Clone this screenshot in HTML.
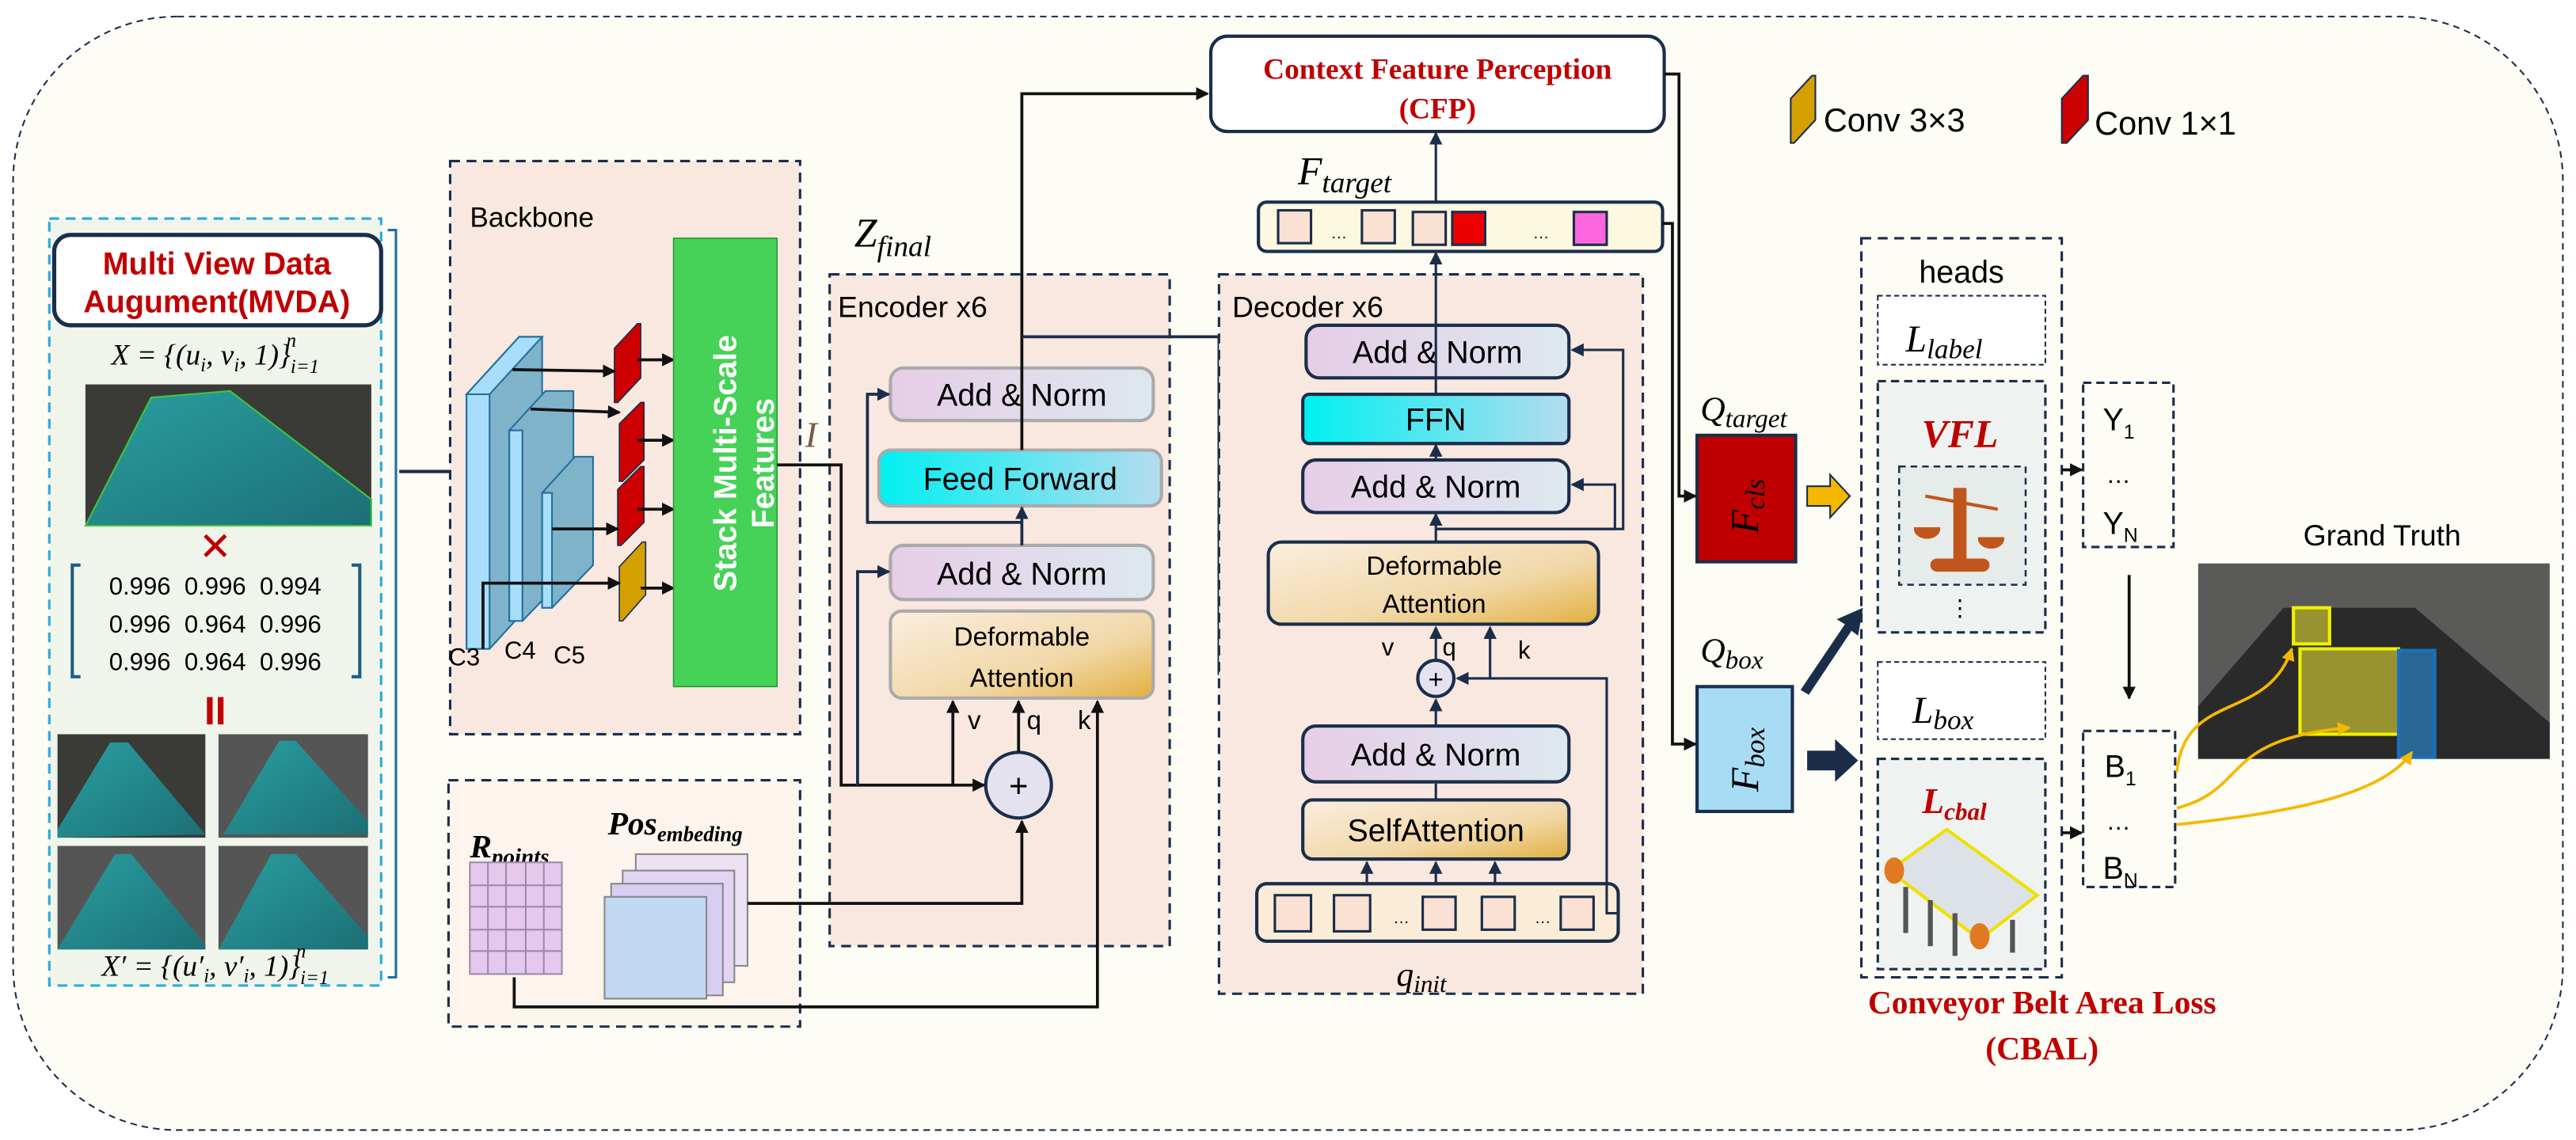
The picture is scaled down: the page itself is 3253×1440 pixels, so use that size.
<!DOCTYPE html>
<html><head><meta charset="utf-8"><style>
html,body{margin:0;padding:0;background:#fff}
svg{display:block}
text{font-family:"Liberation Sans",sans-serif}
.s{font-family:"Liberation Serif",serif}
</style></head><body>
<svg width="3253" height="1440" viewBox="0 0 1568 694" xmlns="http://www.w3.org/2000/svg">
<defs>
<linearGradient id="pu" x1="0" x2="1"><stop offset="0" stop-color="#e6cde6"/><stop offset="1" stop-color="#dde8ef"/></linearGradient>
<linearGradient id="cy" x1="0" x2="1"><stop offset="0" stop-color="#00f0f0"/><stop offset="1" stop-color="#b5dcef"/></linearGradient>
<linearGradient id="da" x1="0" y1="0" x2="1" y2="1"><stop offset="0" stop-color="#fbeee0"/><stop offset="0.6" stop-color="#f1d8a8"/><stop offset="1" stop-color="#e2b040"/></linearGradient>
<linearGradient id="tl" x1="0" y1="0" x2="1" y2="1"><stop offset="0" stop-color="#2a9fa0"/><stop offset="1" stop-color="#1c6f75"/></linearGradient>
<marker id="a" markerWidth="8" markerHeight="8" refX="7" refY="4" orient="auto" markerUnits="userSpaceOnUse"><path d="M0,0 L8,4 L0,8 z" fill="#111"/></marker>
<marker id="an" markerWidth="8" markerHeight="8" refX="7" refY="4" orient="auto" markerUnits="userSpaceOnUse"><path d="M0,0 L8,4 L0,8 z" fill="#1a2e4a"/></marker>
<marker id="ay" markerWidth="8" markerHeight="8" refX="7" refY="4" orient="auto" markerUnits="userSpaceOnUse"><path d="M0,0 L8,4 L0,8 z" fill="#f5b800"/></marker>
</defs>
<rect x="0" y="0" width="1568" height="694" fill="#fff"/>
<rect x="8" y="10" width="1552" height="678" rx="100" fill="#fdfdf5" stroke="#1a2e4a" stroke-width="1" stroke-dasharray="4,3"/>

<!-- MVDA -->
<rect x="30" y="133" width="202" height="467" fill="#f0f5ec" stroke="#2aa8e0" stroke-width="1.5" stroke-dasharray="6,4"/>
<path d="M236,140 h5 v455 h-5" fill="none" stroke="#1f6f9f" stroke-width="1.5"/>
<rect x="33" y="143" width="199" height="55" rx="10" fill="#fff" stroke="#1a2e4a" stroke-width="2.5"/>
<text x="132" y="167" font-size="19" font-weight="bold" fill="#c00000" text-anchor="middle">Multi View Data</text>
<text x="132" y="190" font-size="19" font-weight="bold" fill="#c00000" text-anchor="middle">Augument(MVDA)</text>
<text x="131" y="222" class="s" font-size="18" font-style="italic" text-anchor="middle">X = {(u<tspan font-size="12" dy="4">i</tspan><tspan dy="-4">, v</tspan><tspan font-size="12" dy="4">i</tspan><tspan dy="-4">, 1)}</tspan><tspan font-size="12" dy="5">i=1</tspan><tspan font-size="12" dx="-20" dy="-16">n</tspan></text>
<rect x="52" y="234" width="174" height="86" fill="#3a3a36"/>
<polygon points="52,320 92,242 140,238 226,304 226,320" fill="url(#tl)" stroke="#3ec63e" stroke-width="1"/>
<text x="131" y="341" font-size="24" fill="#c00000" text-anchor="middle">✕</text>
<path d="M49,344 h-5 v68 h5 M214,344 h5 v68 h-5" fill="none" stroke="#1f5f7f" stroke-width="2"/>
<text x="131" y="362" font-size="15" text-anchor="middle" xml:space="preserve">0.996  0.996  0.994</text>
<text x="131" y="385" font-size="15" text-anchor="middle" xml:space="preserve">0.996  0.964  0.996</text>
<text x="131" y="408" font-size="15" text-anchor="middle" xml:space="preserve">0.996  0.964  0.996</text>
<text x="131" y="441" font-size="24" font-weight="bold" fill="#c00000" text-anchor="middle">II</text>
<g>
<rect x="35" y="447" width="90" height="63" fill="#3a3a36"/><polygon points="35,505 67,452 78,452 125,508 35,510" fill="url(#tl)"/>
<rect x="133" y="447" width="91" height="63" fill="#555"/><polygon points="136,508 170,451 180,451 224,500 224,508" fill="url(#tl)"/>
<rect x="35" y="515" width="90" height="63" fill="#555"/><polygon points="35,578 70,520 80,520 125,575 125,578" fill="url(#tl)"/>
<rect x="133" y="515" width="91" height="63" fill="#555"/><polygon points="133,578 165,520 180,520 224,570 224,578" fill="url(#tl)"/>
</g>
<text x="131" y="594" class="s" font-size="18" font-style="italic" text-anchor="middle">X′ = {(u′<tspan font-size="12" dy="4">i</tspan><tspan dy="-4">, v′</tspan><tspan font-size="12" dy="4">i</tspan><tspan dy="-4">, 1)}</tspan><tspan font-size="12" dy="5">i=1</tspan><tspan font-size="12" dx="-20" dy="-16">n</tspan></text>
<line x1="243" y1="287" x2="283" y2="287" stroke="#1a2e4a" stroke-width="2" marker-end="url(#an)"/>

<!-- Backbone -->
<rect x="274" y="98" width="213" height="349" fill="#f9e8e0" stroke="#1a2e4a" stroke-width="1.5" stroke-dasharray="6,4"/>
<text x="286" y="138" font-size="17">Backbone</text>
<polygon points="284,240 316,205 330,205 330,360 298,395 284,395" fill="#7fb3c9" stroke="#1f6f9f"/>
<polygon points="284,240 316,205 330,205 298,240" fill="#a9defa" stroke="#1f6f9f"/>
<rect x="284" y="240" width="14" height="155" fill="#a9defa" stroke="#1f6f9f"/>
<polygon points="310,262 332,238 349,238 349,346 318,378 310,378" fill="#7fb3c9" stroke="#1f6f9f"/>
<rect x="310" y="262" width="8" height="116" fill="#a9defa" stroke="#1f6f9f"/>
<polygon points="330,300 350,278 361,278 361,344 336,370 330,370" fill="#7fb3c9" stroke="#1f6f9f"/>
<rect x="330" y="300" width="6" height="70" fill="#a9defa" stroke="#1f6f9f"/>
<text x="273" y="405" font-size="15">C3</text><text x="307" y="401" font-size="15">C4</text><text x="337" y="404" font-size="15">C5</text>
<g fill="#cc0000" stroke="#1a2e4a" stroke-width="0.8">
<polygon points="374,212 388,197 390,197 390,230 376,245 374,245"/>
<polygon points="377,258 390,245 392,245 392,280 379,293 377,293"/>
<polygon points="376,298 390,284 392,284 392,318 378,332 376,332"/>
</g>
<polygon points="377,345 391,330 393,330 393,362 379,378 377,378" fill="#d4a000" stroke="#1a2e4a" stroke-width="0.8"/>
<g stroke="#111" stroke-width="1.8" fill="none" marker-end="url(#a)">
<line x1="312" y1="225" x2="374" y2="226"/><line x1="323" y1="249" x2="377" y2="251"/><line x1="336" y1="322" x2="376" y2="322"/>
<path d="M294,395 V355 H377"/>
<line x1="388" y1="219" x2="410" y2="219"/><line x1="388" y1="268" x2="410" y2="268"/><line x1="388" y1="310" x2="410" y2="310"/><line x1="390" y1="358" x2="410" y2="358"/>
</g>
<rect x="410" y="145" width="63" height="273" fill="#46d157" stroke="#2a9a3a" stroke-width="0.8"/>
<text transform="translate(448,282) rotate(-90)" font-size="19" font-weight="bold" fill="#fff" text-anchor="middle">Stack Multi-Scale</text>
<text transform="translate(471,282) rotate(-90)" font-size="19" font-weight="bold" fill="#fff" text-anchor="middle">Features</text>
<text x="490" y="272" class="s" font-size="22" font-style="italic" fill="#7a5a4a">I</text>

<!-- Rpoints -->
<rect x="273" y="475" width="214" height="150" fill="#fdf4ee" stroke="#1a2e4a" stroke-width="1.5" stroke-dasharray="6,4"/>
<text x="286" y="522" class="s" font-size="20" font-weight="bold" font-style="italic">R<tspan font-size="14" dy="4">points</tspan></text>
<text x="370" y="508" class="s" font-size="20" font-weight="bold" font-style="italic">Pos<tspan font-size="13" dy="4">embeding</tspan></text>
<g stroke="#9a8aaa" stroke-width="1"><rect x="286" y="525" width="56" height="68" fill="#e6c8ee"/>
<path d="M297,525V593M308,525V593M320,525V593M331,525V593M286,539H342M286,552H342M286,566H342M286,579H342"/></g>
<rect x="387" y="520" width="68" height="68" fill="#ebe2f4" stroke="#888"/>
<rect x="379" y="530" width="68" height="68" fill="#e3d4f4" stroke="#888"/>
<rect x="372" y="538" width="68" height="68" fill="#d8cef2" stroke="#888"/>
<rect x="368" y="546" width="62" height="62" fill="#c0d8f2" stroke="#888"/>

<!-- Encoder -->
<rect x="505" y="167" width="207" height="409" fill="#f9e8e0" stroke="#1a2e4a" stroke-width="1.5" stroke-dasharray="6,4"/>
<text x="510" y="193" font-size="18">Encoder x6</text>
<text x="520" y="150" class="s" font-size="25" font-style="italic">Z<tspan font-size="18" dy="6">final</tspan></text>
<rect x="542" y="224" width="160" height="32" rx="8" fill="url(#pu)" stroke="#aaa" stroke-width="2"/>
<text x="622" y="247" font-size="19" text-anchor="middle">Add &amp; Norm</text>
<rect x="535" y="274" width="172" height="34" rx="7" fill="url(#cy)" stroke="#aaa" stroke-width="2"/>
<text x="621" y="298" font-size="19" text-anchor="middle">Feed Forward</text>
<rect x="542" y="332" width="160" height="33" rx="8" fill="url(#pu)" stroke="#aaa" stroke-width="2"/>
<text x="622" y="356" font-size="19" text-anchor="middle">Add &amp; Norm</text>
<rect x="542" y="372" width="160" height="53" rx="7" fill="url(#da)" stroke="#aaa" stroke-width="2"/>
<text x="622" y="393" font-size="16" text-anchor="middle">Deformable</text>
<text x="622" y="418" font-size="16" text-anchor="middle">Attention</text>
<text x="589" y="444" font-size="16">v</text><text x="625" y="444" font-size="16">q</text><text x="656" y="444" font-size="16">k</text>
<circle cx="620" cy="478" r="20" fill="#e4e2ee" stroke="#1a2e4a" stroke-width="2"/>
<text x="620" y="485" font-size="20" text-anchor="middle">+</text>
<g stroke="#111" stroke-width="1.8" fill="none">
<path d="M473,283 H512 V478 H599" marker-end="url(#a)"/>
<path d="M580,478 V427" marker-end="url(#a)"/>
<path d="M620,458 V427" marker-end="url(#a)"/>
<path d="M455,550 H622 V500" marker-end="url(#a)"/>
<path d="M313,595 V613 H668 V427" marker-end="url(#a)"/>
</g>
<g stroke="#1a2e4a" stroke-width="1.8" fill="none">
<path d="M522,478 V348 H541" marker-end="url(#an)"/>
<path d="M622,332 V309" marker-end="url(#an)"/>
<path d="M622,318 H528 V240 H541" marker-end="url(#an)"/>
<path d="M622,274 V57 H735" stroke="#111" marker-end="url(#a)"/>
<path d="M622,205 H742 V410 H835 V383" marker-end="url(#an)"/>
</g>

<!-- Decoder -->
<rect x="742" y="167" width="258" height="438" fill="#f9e8e0" stroke="#1a2e4a" stroke-width="1.5" stroke-dasharray="6,4"/>
<text x="750" y="193" font-size="18">Decoder  x6</text>
<rect x="795" y="198" width="160" height="32" rx="8" fill="url(#pu)" stroke="#1a2e4a" stroke-width="2"/>
<text x="875" y="221" font-size="19" text-anchor="middle">Add &amp; Norm</text>
<rect x="793" y="240" width="162" height="30" rx="4" fill="url(#cy)" stroke="#1a2e4a" stroke-width="2"/>
<text x="874" y="262" font-size="19" text-anchor="middle">FFN</text>
<rect x="793" y="280" width="162" height="32" rx="8" fill="url(#pu)" stroke="#1a2e4a" stroke-width="2"/>
<text x="874" y="303" font-size="19" text-anchor="middle">Add &amp; Norm</text>
<rect x="772" y="330" width="201" height="50" rx="8" fill="url(#da)" stroke="#1a2e4a" stroke-width="2"/>
<text x="873" y="350" font-size="16" text-anchor="middle">Deformable</text>
<text x="873" y="373" font-size="16" text-anchor="middle">Attention</text>
<text x="841" y="399" font-size="15">v</text><text x="878" y="399" font-size="15">q</text><text x="924" y="401" font-size="15">k</text>
<circle cx="874" cy="413" r="11" fill="#e4e2ee" stroke="#1a2e4a" stroke-width="2"/>
<text x="874" y="419" font-size="16" text-anchor="middle">+</text>
<rect x="793" y="442" width="162" height="34" rx="8" fill="url(#pu)" stroke="#1a2e4a" stroke-width="2"/>
<text x="874" y="466" font-size="19" text-anchor="middle">Add &amp; Norm</text>
<rect x="793" y="487" width="162" height="36" rx="6" fill="url(#da)" stroke="#1a2e4a" stroke-width="2"/>
<text x="874" y="512" font-size="19" text-anchor="middle">SelfAttention</text>
<rect x="765" y="538" width="220" height="35" rx="6" fill="#fbecd8" stroke="#1a2e4a" stroke-width="2"/>
<g fill="#fbe0d4" stroke="#1a2e4a" stroke-width="1.5">
<rect x="776" y="545" width="22" height="22"/><rect x="812" y="545" width="22" height="22"/><rect x="866" y="546" width="20" height="20"/><rect x="902" y="546" width="20" height="20"/><rect x="950" y="546" width="20" height="20"/>
</g>
<text x="848" y="562" font-size="10">…</text><text x="934" y="562" font-size="10">…</text>
<text x="850" y="600" class="s" font-size="21" font-style="italic">q<tspan font-size="15" dy="4">init</tspan></text>
<g stroke="#1a2e4a" stroke-width="1.5" fill="none">
<path d="M832,538 V525" marker-end="url(#an)"/><path d="M874,538 V525" marker-end="url(#an)"/><path d="M910,538 V525" marker-end="url(#an)"/>
<path d="M874,487 V477"/><path d="M874,442 V426" marker-end="url(#an)"/>
<path d="M874,402 V382" marker-end="url(#an)"/>
<path d="M985,556 H978 V413 H887" marker-end="url(#an)"/>
<path d="M907,413 V382" marker-end="url(#an)"/>
<path d="M874,330 V313" marker-end="url(#an)"/>
<path d="M874,280 V271" marker-end="url(#an)"/>
<path d="M874,240 V154" marker-end="url(#an)"/>
<path d="M874,322 H983 V295 H957" marker-end="url(#an)"/>
<path d="M874,322 H988 V213 H957" marker-end="url(#an)"/>
<path d="M874,123 V81" marker-end="url(#an)"/>
</g>

<!-- F_target -->
<text x="790" y="112" class="s" font-size="24" font-style="italic">F<tspan font-size="18" dy="5">target</tspan></text>
<rect x="766" y="123" width="246" height="30" rx="5" fill="#fdf8e0" stroke="#1a2e4a" stroke-width="2"/>
<g stroke="#1a2e4a" stroke-width="1.5">
<rect x="778" y="128" width="20" height="20" fill="#fbe0d4"/><rect x="829" y="128" width="20" height="20" fill="#fbe0d4"/><rect x="860" y="129" width="20" height="20" fill="#fbe0d4"/><rect x="884" y="129" width="20" height="20" fill="#ee0000"/><rect x="958" y="129" width="20" height="20" fill="#ff66dd"/>
</g>
<text x="810" y="145" font-size="10">…</text><text x="933" y="145" font-size="10">…</text>

<!-- CFP -->
<rect x="737" y="22" width="276" height="58" rx="10" fill="#fff" stroke="#1a2e4a" stroke-width="2"/>
<text x="875" y="48" class="s" font-size="18" font-weight="bold" fill="#c00000" text-anchor="middle">Context Feature Perception</text>
<text x="875" y="72" class="s" font-size="18" font-weight="bold" fill="#c00000" text-anchor="middle">(CFP)</text>

<!-- legend -->
<polygon points="1090,60 1103,46 1105,46 1105,73 1092,87 1090,87" fill="#d4a000" stroke="#1a2e4a"/>
<text x="1110" y="80" font-size="20">Conv 3×3</text>
<polygon points="1255,60 1268,46 1271,46 1271,73 1258,87 1255,87" fill="#cc0000" stroke="#1a2e4a"/>
<text x="1275" y="82" font-size="20">Conv 1×1</text>

<!-- F_cls / F_box -->
<g stroke="#111" stroke-width="1.8" fill="none">
<path d="M1013,45 H1022 V302 H1032" marker-end="url(#a)"/>
<path d="M1012,136 H1018 V453 H1032" marker-end="url(#a)"/>
</g>
<text x="1035" y="256" class="s" font-size="21" font-style="italic">Q<tspan font-size="16" dy="4">target</tspan></text>
<rect x="1033" y="265" width="60" height="77" fill="#c00000" stroke="#1a2e4a" stroke-width="2"/>
<text transform="translate(1070,325) rotate(-90)" class="s" font-size="24" font-style="italic">F<tspan font-size="17" dy="4">cls</tspan></text>
<text x="1035" y="403" class="s" font-size="21" font-style="italic">Q<tspan font-size="16" dy="4">box</tspan></text>
<rect x="1033" y="418" width="58" height="76" fill="#a8dcf5" stroke="#1a2e4a" stroke-width="2"/>
<text transform="translate(1070,482) rotate(-90)" class="s" font-size="24" font-style="italic">F<tspan font-size="17" dy="4">box</tspan></text>
<polygon points="1100,296 1114,296 1114,289 1126,302 1114,315 1114,308 1100,308" fill="#f5b800" stroke="#1a2e4a"/>
<polygon points="1096,420 1123,380 1118,377 1134,370 1131,387 1127,384 1101,423" fill="#1a2e4a"/>
<polygon points="1100,457 1117,457 1117,450 1131,463 1117,476 1117,469 1100,469" fill="#1a2e4a"/>

<!-- heads -->
<rect x="1133" y="145" width="122" height="450" fill="none" stroke="#1a2e4a" stroke-width="1.5" stroke-dasharray="6,4"/>
<text x="1194" y="172" font-size="19" text-anchor="middle">heads</text>
<rect x="1143" y="180" width="102" height="42" fill="#fff" stroke="#1a2e4a" stroke-width="1" stroke-dasharray="3,2"/>
<text x="1160" y="214" class="s" font-size="23" font-style="italic">L<tspan font-size="17" dy="4">label</tspan></text>
<rect x="1143" y="232" width="102" height="153" fill="#eef3f1" stroke="#1a2e4a" stroke-width="1.5" stroke-dasharray="5,3"/>
<text x="1193" y="272" class="s" font-size="24" font-style="italic" font-weight="bold" fill="#c00000" text-anchor="middle">VFL</text>
<rect x="1156" y="284" width="77" height="72" fill="#e6ecea" stroke="#1a2e4a" stroke-width="1.2" stroke-dasharray="4,3"/>
<g fill="#c0561c" stroke="#c0561c" stroke-width="2">
<rect x="1190" y="298" width="6" height="45"/><rect x="1176" y="341" width="34" height="6" rx="3"/>
<line x1="1172" y1="302" x2="1216" y2="310"/>
<path d="M1166,322 a7,5 0 0 0 14,0 z M1205,328 a7,5 0 0 0 14,0 z"/>
</g>
<text x="1193" y="375" font-size="14" text-anchor="middle">⋮</text>
<rect x="1143" y="403" width="102" height="47" fill="#fff" stroke="#1a2e4a" stroke-width="1" stroke-dasharray="3,2"/>
<text x="1164" y="440" class="s" font-size="23" font-style="italic">L<tspan font-size="17" dy="4">box</tspan></text>
<rect x="1143" y="462" width="102" height="128" fill="#eef3f1" stroke="#1a2e4a" stroke-width="1.5" stroke-dasharray="5,3"/>
<text x="1170" y="495" class="s" font-size="22" font-style="italic" font-weight="bold" fill="#c00000">L<tspan font-size="15" dy="4">cbal</tspan></text>
<g>
<polygon points="1150,530 1185,505 1240,545 1205,572" fill="#dde2e8" stroke="#f0e000" stroke-width="2"/>
<g stroke="#555" stroke-width="3"><line x1="1160" y1="540" x2="1160" y2="568"/><line x1="1175" y1="548" x2="1175" y2="576"/><line x1="1190" y1="556" x2="1190" y2="582"/><line x1="1225" y1="560" x2="1225" y2="580"/></g>
<ellipse cx="1153" cy="530" rx="6" ry="8" fill="#e07a20"/><ellipse cx="1205" cy="570" rx="6" ry="8" fill="#e07a20"/>
</g>

<!-- Y / B -->
<rect x="1268" y="233" width="55" height="100" fill="none" stroke="#1a2e4a" stroke-width="1.5" stroke-dasharray="5,3"/>
<text x="1280" y="262" font-size="19">Y<tspan font-size="12" dy="5">1</tspan></text>
<text x="1282" y="294" font-size="15">…</text>
<text x="1280" y="325" font-size="19">Y<tspan font-size="12" dy="5">N</tspan></text>
<rect x="1268" y="445" width="56" height="95" fill="none" stroke="#1a2e4a" stroke-width="1.5" stroke-dasharray="5,3"/>
<text x="1281" y="473" font-size="19">B<tspan font-size="12" dy="5">1</tspan></text>
<text x="1282" y="505" font-size="15">…</text>
<text x="1280" y="535" font-size="19">B<tspan font-size="12" dy="5">N</tspan></text>
<g stroke="#111" stroke-width="1.8" fill="none">
<line x1="1255" y1="286" x2="1267" y2="286" marker-end="url(#a)"/>
<line x1="1255" y1="507" x2="1267" y2="507" marker-end="url(#a)"/>
<line x1="1296" y1="350" x2="1296" y2="425" marker-end="url(#a)"/>
</g>

<!-- Grand truth -->
<text x="1450" y="332" font-size="18" text-anchor="middle">Grand Truth</text>
<rect x="1338" y="343" width="214" height="119" fill="#5a5a58"/>
<polygon points="1338,430 1390,370 1470,370 1552,440 1552,462 1338,462" fill="#2a2a2a"/>
<rect x="1396" y="370" width="22" height="22" fill="#c8c030" fill-opacity="0.7" stroke="#f0f000" stroke-width="2"/>
<rect x="1400" y="395" width="60" height="52" fill="#c8c030" fill-opacity="0.7" stroke="#f0f000" stroke-width="2"/>
<rect x="1460" y="396" width="22" height="65" fill="#2a80c0" fill-opacity="0.7" stroke="#1a70c0" stroke-width="2"/>
<g stroke="#f5b800" stroke-width="1.8" fill="none">
<path d="M1325,470 C1330,420 1380,440 1395,395" marker-end="url(#ay)"/>
<path d="M1325,492 C1370,480 1350,450 1430,443" marker-end="url(#ay)"/>
<path d="M1325,502 C1390,495 1450,485 1468,458" marker-end="url(#ay)"/>
</g>

<text x="1243" y="617" class="s" font-size="20" font-weight="bold" fill="#c00000" text-anchor="middle">Conveyor Belt Area Loss</text>
<text x="1243" y="645" class="s" font-size="20" font-weight="bold" fill="#c00000" text-anchor="middle">(CBAL)</text>
</svg>
</body></html>
